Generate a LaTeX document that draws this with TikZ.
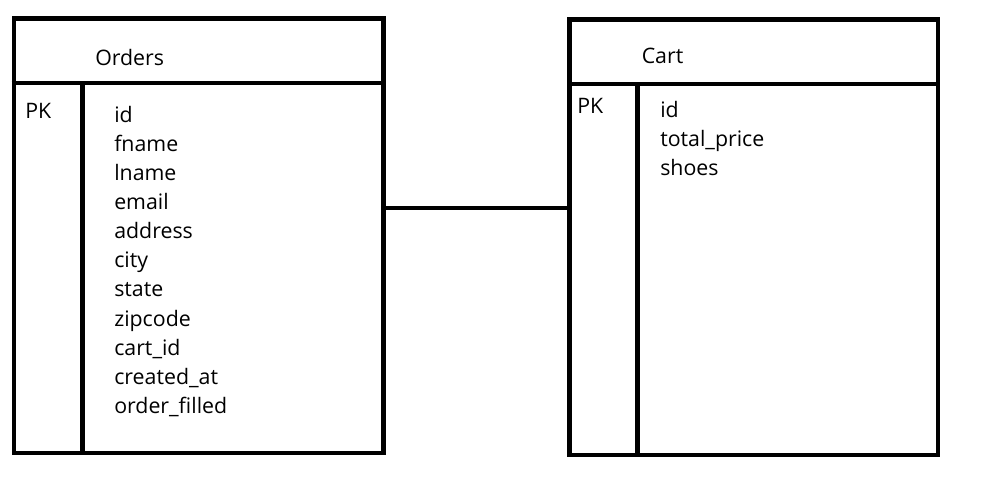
\documentclass[tikz,border=0pt]{standalone}
\usepackage{fontspec}
\setmainfont{Open Sans}
\usetikzlibrary{positioning, fit}

\begin{document}
\begin{tikzpicture}[
  x=0.75pt, y=-0.75pt,
  tbl/.style={draw, line width=3.5pt, inner sep=0pt},
  rule/.style={line width=3.5pt},
  lbl/.style={anchor=base west, inner sep=0pt, font=\fontsize{16}{19}\selectfont},
]
  \useasboundingbox (0,0) rectangle (983,483);

  % Orders table
  \node[tbl, fit={(14,18.5) (383.5,453)}] (orders) {};
  \coordinate (ohd) at (0,83);
  \coordinate (ocol) at (82.5,0);
  \draw[rule] (orders.west |- ohd) -- (orders.east |- ohd);
  \draw[rule] (ocol |- ohd) -- (ocol |- orders.south);
  \node[lbl] (otitle) at (95,65) {Orders};
  \node[lbl] (opk) at (25,118.3) {PK};
  \foreach \f [count=\i from 0] in {id, fname, lname, email, address, city, state, zipcode, cart\_id, created\_at, order\_filled}
    \node[lbl] (of\i) at (114,122.3+29.1*\i) {\f};

  % Cart table
  \node[tbl, fit={(569.5,19.5) (938,455)}] (cart) {};
  \coordinate (chd) at (0,84);
  \coordinate (ccol) at (637.5,0);
  \draw[rule] (cart.west |- chd) -- (cart.east |- chd);
  \draw[rule] (ccol |- chd) -- (ccol |- cart.south);
  \node[lbl] (ctitle) at (641.5,63.3) {Cart};
  \node[lbl] (cpk) at (577,113.3) {PK};
  \foreach \f [count=\i from 0] in {id, total\_price, shoes}
    \node[lbl] (cf\i) at (660,117.3+29.1*\i) {\f};

  % link
  \coordinate (lk) at (0,208);
  \draw[rule] (orders.east |- lk) -- (cart.west |- lk);
\end{tikzpicture}
\end{document}
